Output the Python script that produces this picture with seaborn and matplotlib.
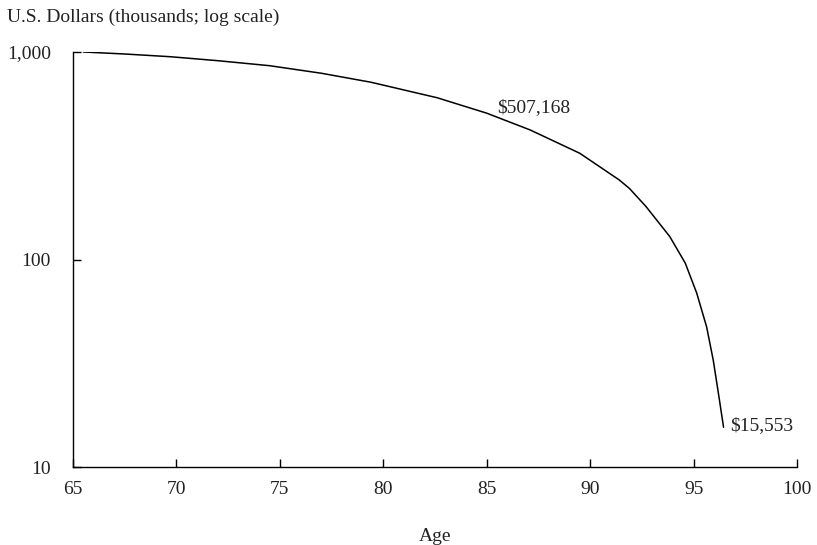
import matplotlib
matplotlib.use('Agg')
import matplotlib.pyplot as plt
import matplotlib.ticker as mticker
import seaborn as sns
import pandas as pd

# Portfolio balance by age (thousands of U.S. dollars)
ages = [65.5, 67.5, 69.7, 72, 74.5, 77, 79.4, 82.6, 85, 87.1, 89.5, 91.4, 91.9,
        92.7, 93.85, 94.6, 95.15, 95.63, 95.95, 96.2, 96.45]
balance = [1000, 978, 949, 908, 859, 790, 715, 602, 507.168, 421, 325, 242, 220,
           180, 129, 96, 69, 47.4, 32.8, 22.7, 15.553]

label_mid = "$507,168"
label_end = "$15,553"

df = pd.DataFrame({'age': ages, 'balance': balance})

sns.set_style('white')
plt.rcParams['font.family'] = ['Liberation Serif', 'DejaVu Serif']

fig = plt.figure(figsize=(8.17, 5.45), dpi=100)
ax = fig.add_axes([0.0894, 0.1431, 0.8861, 0.7615])

sns.lineplot(data=df, x='age', y='balance', ax=ax, color='black', linewidth=1.1)

ax.set_yscale('log')
ax.set_ylim(10, 1000)
ax.set_xlim(65, 100)
ax.set_xticks([65, 70, 75, 80, 85, 90, 95, 100])
ax.yaxis.set_major_locator(mticker.FixedLocator([10, 100, 1000]))
ax.yaxis.set_minor_locator(mticker.NullLocator())
ax.yaxis.set_major_formatter(mticker.FuncFormatter(lambda v, p: f"{v:,.0f}"))

ax.tick_params(axis='both', which='major', direction='in', length=6, width=1,
               color='black', labelsize=14, labelcolor='#222222',
               bottom=True, left=True)
ax.tick_params(axis='x', pad=10)
ax.tick_params(axis='y', pad=16)

for side in ['top', 'right']:
    ax.spines[side].set_visible(False)
for side in ['left', 'bottom']:
    ax.spines[side].set_color('black')
    ax.spines[side].set_linewidth(1)

ax.set_xlabel('Age', fontsize=14, color='#222222', labelpad=22)
ax.set_ylabel('')
fig.text(0.0086, 0.968, 'U.S. Dollars (thousands; log scale)', fontsize=14,
         color='#222222', ha='left', va='center')

ax.text(85.5, 540, label_mid, fontsize=14, color='#222222', ha='left', va='center')
ax.text(96.75, 15.9, label_end, fontsize=14, color='#222222', ha='left', va='center')

fig.savefig('out.png', dpi=100)
